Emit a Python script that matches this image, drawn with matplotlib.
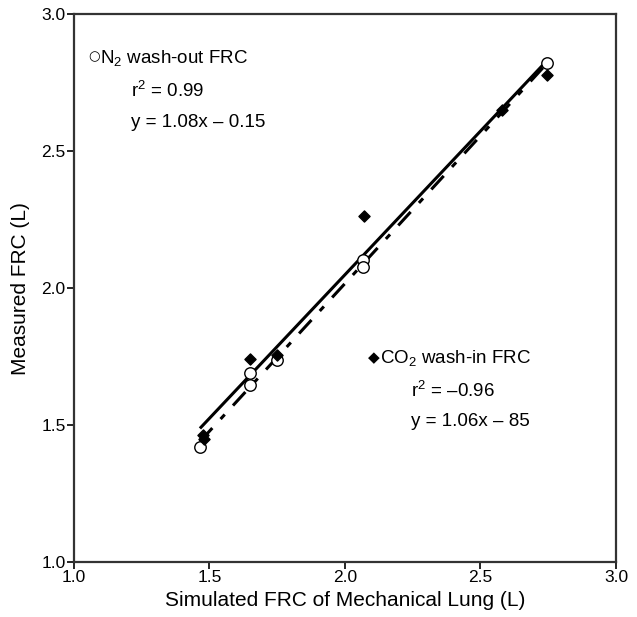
import matplotlib
matplotlib.use("Agg")
import matplotlib.pyplot as plt

# Simulated FRC of mechanical lung vs measured FRC (L)
n2_x = [1.465, 1.65, 1.65, 1.748, 2.067, 2.067, 2.745]
n2_y = [1.42, 1.69, 1.646, 1.737, 2.102, 2.078, 2.822]

co2_x = [1.475, 1.48, 1.65, 1.75, 2.07, 2.58, 2.745]
co2_y = [1.463, 1.45, 1.74, 1.755, 2.265, 2.65, 2.777]

# regression line end points
fit_x = [1.465, 2.745]
solid_fit_y = [1.488, 2.83]
dashed_fit_y = [1.44, 2.82]

ticks = [1.0, 1.5, 2.0, 2.5, 3.0]

plt.rcParams['font.family'] = ['Liberation Sans', 'DejaVu Sans']
plt.rcParams['mathtext.fontset'] = 'custom'
plt.rcParams['mathtext.rm'] = 'Liberation Sans'
plt.rcParams['mathtext.it'] = 'Liberation Sans'

fig = plt.figure(figsize=(6.37, 6.17), dpi=100)
ax = fig.add_axes([0.116, 0.089, 0.851, 0.888])

ax.plot(fit_x, solid_fit_y, color='black', lw=2.2, solid_capstyle='butt')
ax.plot(fit_x, dashed_fit_y, color='black', lw=2.2, linestyle=(0, (6, 4, 2, 4)))

ax.scatter(n2_x, n2_y, marker='o', s=68, facecolors='white', edgecolors='black',
           linewidths=1.0, zorder=3)
ax.scatter(co2_x, co2_y, marker='D', s=32, color='black', zorder=4)

ax.set_xlim(1.0, 3.0)
ax.set_ylim(1.0, 3.0)
ax.set_xticks(ticks)
ax.set_yticks(ticks)
ax.set_xticklabels([f'{t:.1f}' for t in ticks])
ax.set_yticklabels([f'{t:.1f}' for t in ticks])
ax.tick_params(direction='out', length=5, width=1.2, labelsize=12.5, pad=1,
               colors='black')
for s in ax.spines.values():
    s.set_linewidth(1.6)
    s.set_color('#333333')

ax.set_xlabel('Simulated FRC of Mechanical Lung (L)', fontsize=15, labelpad=4)
ax.set_ylabel('Measured FRC (L)', fontsize=15, labelpad=8)

# annotation blocks (symbol glyph drawn separately so the fallback font works)
ax.text(1.096, 2.843, '○', fontsize=9.5, va='center', ha='right',
        family=['DejaVu Sans'])
ax.text(1.096, 2.84, 'N$_2$ wash-out FRC', fontsize=13.5, va='center')
ax.text(1.21, 2.72, 'r$^2$ = 0.99', fontsize=13.5, va='center')
ax.text(1.21, 2.605, 'y = 1.08x – 0.15', fontsize=13.5, va='center')

ax.text(2.13, 1.748, '◆', fontsize=11, va='center', ha='right',
        family=['DejaVu Sans'])
ax.text(2.13, 1.745, 'CO$_2$ wash-in FRC', fontsize=13.5, va='center')
ax.text(2.245, 1.625, 'r$^2$ = –0.96', fontsize=13.5, va='center')
ax.text(2.245, 1.515, 'y = 1.06x – 85', fontsize=13.5, va='center')

fig.savefig('out.png', dpi=100)
plt.close(fig)
